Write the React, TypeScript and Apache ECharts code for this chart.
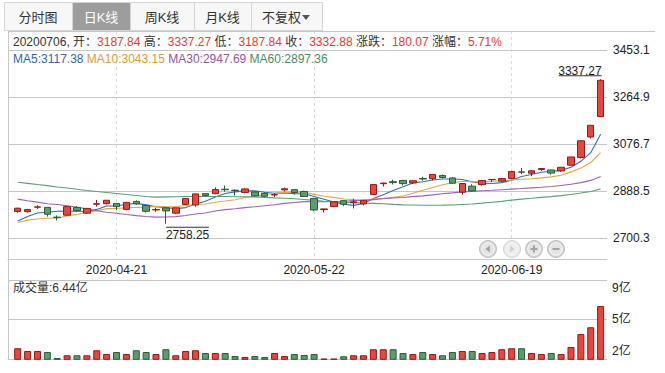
import React, { useEffect, useRef } from 'react';
import * as echarts from 'echarts';

const dates = [
  '2020-04-07', '2020-04-08', '2020-04-09', '2020-04-10', '2020-04-13', '2020-04-14', '2020-04-15', '2020-04-16', '2020-04-17', '2020-04-20',
  '2020-04-21', '2020-04-22', '2020-04-23', '2020-04-24', '2020-04-27', '2020-04-28', '2020-04-29', '2020-04-30', '2020-05-06', '2020-05-07',
  '2020-05-08', '2020-05-11', '2020-05-12', '2020-05-13', '2020-05-14', '2020-05-15', '2020-05-18', '2020-05-19', '2020-05-20', '2020-05-21',
  '2020-05-22', '2020-05-25', '2020-05-26', '2020-05-27', '2020-05-28', '2020-05-29', '2020-06-01', '2020-06-02', '2020-06-03', '2020-06-04',
  '2020-06-05', '2020-06-08', '2020-06-09', '2020-06-10', '2020-06-11', '2020-06-12', '2020-06-15', '2020-06-16', '2020-06-17', '2020-06-18',
  '2020-06-19', '2020-06-22', '2020-06-23', '2020-06-24', '2020-06-29', '2020-06-30', '2020-07-01', '2020-07-02', '2020-07-03', '2020-07-06',
];

const opens = [
  2808, 2807, 2825, 2824, 2785, 2793, 2824, 2801, 2837, 2839,
  2840, 2816, 2848, 2832, 2814, 2822, 2801, 2836, 2834, 2879,
  2879, 2897, 2893, 2884, 2886, 2880, 2874, 2894, 2895, 2888,
  2860, 2815, 2827, 2851, 2843, 2838, 2876, 2919, 2927, 2932,
  2922, 2940, 2939, 2952, 2942, 2885, 2909, 2915, 2935, 2929,
  2940, 2966, 2961, 2976, 2974, 2970, 2993, 3024, 3106, 3187.84,
];

const closes = [
  2820.76, 2815.37, 2825.90, 2796.63, 2783.05, 2827.28, 2811.17, 2819.94, 2838.49, 2852.55,
  2827.01, 2843.98, 2838.50, 2808.53, 2815.49, 2810.02, 2822.44, 2860.08, 2878.14, 2871.52,
  2895.34, 2894.80, 2891.56, 2898.05, 2870.34, 2868.46, 2875.42, 2898.58, 2883.74, 2867.92,
  2813.77, 2817.97, 2846.55, 2836.80, 2846.22, 2852.35, 2915.43, 2921.40, 2923.37, 2919.25,
  2930.80, 2937.77, 2956.11, 2943.75, 2920.90, 2919.74, 2890.03, 2931.75, 2935.87, 2939.32,
  2967.63, 2965.27, 2970.62, 2979.55, 2961.52, 2984.67, 3025.98, 3090.57, 3152.81, 3332.88,
];

const lows = [
  2803, 2803, 2818, 2787, 2772, 2791, 2806, 2798, 2827, 2836,
  2813, 2812, 2835, 2803, 2806, 2758.25, 2797, 2834, 2827, 2869,
  2877, 2887, 2871, 2880, 2867, 2866, 2866, 2888, 2876, 2866,
  2809, 2804, 2826, 2830, 2820, 2832, 2875, 2908, 2916, 2912,
  2918, 2931, 2932, 2940, 2918, 2876, 2888, 2911, 2925, 2927,
  2937, 2957, 2949, 2970, 2955, 2966, 2991, 3020, 3100, 3187.84,
];

const highs = [
  2823, 2818, 2833, 2826, 2792, 2828, 2829, 2822, 2854, 2853,
  2841, 2845, 2852, 2835, 2823, 2826, 2823, 2861, 2879, 2881,
  2904, 2912, 2896, 2900, 2888, 2885, 2881, 2903, 2897, 2891,
  2862, 2819, 2847, 2853, 2859, 2853, 2917, 2923, 2935, 2934,
  2932, 2947, 2957, 2956, 2945, 2920, 2917, 2934, 2937, 2940,
  2969, 2982, 2972, 2982, 2975, 2985, 3026, 3093, 3153, 3337.27,
];

// 成交量 (亿)
const volumes = [
  3.08, 2.86, 2.86, 2.78, 2.30, 2.52, 2.52, 2.52, 2.92, 2.62,
  2.78, 2.62, 2.92, 2.78, 2.62, 3.00, 2.52, 2.86, 2.92, 2.70,
  2.70, 2.70, 2.46, 2.38, 2.46, 2.38, 2.70, 2.46, 2.62, 2.54,
  2.62, 2.26, 2.26, 2.44, 2.52, 2.52, 3.00, 3.00, 3.00, 2.70,
  2.62, 2.78, 2.62, 2.52, 2.78, 2.86, 2.86, 2.70, 2.78, 3.00,
  3.08, 3.08, 2.70, 2.62, 2.70, 2.62, 3.18, 4.21, 4.75, 6.44,
];

const ma5 = [
  2770.0, 2788.0, 2801.3, 2804.5, 2808.34, 2809.65, 2808.81, 2807.61, 2815.99, 2829.89,
  2829.83, 2836.39, 2840.11, 2834.11, 2826.70, 2823.30, 2819.00, 2823.31, 2837.23, 2848.44,
  2865.50, 2879.98, 2886.27, 2890.25, 2890.02, 2884.64, 2880.77, 2882.17, 2879.31, 2878.82,
  2867.89, 2856.40, 2845.99, 2836.60, 2832.26, 2839.98, 2859.47, 2874.44, 2891.75, 2906.36,
  2922.05, 2926.52, 2933.46, 2937.54, 2937.87, 2935.65, 2926.11, 2921.23, 2919.66, 2923.34,
  2932.92, 2947.97, 2955.74, 2964.48, 2968.92, 2972.33, 2984.47, 3008.46, 3043.11, 3117.38,
];

const ma10 = [
  2763.86, 2773.15, 2777.58, 2780.75, 2781.83, 2789.84, 2795.93, 2804.47, 2810.25, 2819.11,
  2819.74, 2822.60, 2823.86, 2825.05, 2828.29, 2826.57, 2827.70, 2831.71, 2835.67, 2837.57,
  2844.40, 2849.49, 2854.79, 2863.74, 2869.23, 2875.07, 2880.37, 2884.22, 2884.78, 2884.42,
  2876.26, 2868.58, 2864.08, 2857.96, 2855.54, 2853.93, 2857.93, 2860.22, 2864.18, 2869.31,
  2881.01, 2892.99, 2903.95, 2914.65, 2922.11, 2928.85, 2926.31, 2927.35, 2928.60, 2930.60,
  2934.29, 2937.04, 2938.49, 2942.07, 2946.13, 2952.62, 2966.22, 2982.10, 3003.79, 3043.15,
];

const ma30 = [
  2857.25, 2850.66, 2845.26, 2838.77, 2835.53, 2830.74, 2824.68, 2818.29, 2810.52, 2804.45,
  2800.57, 2795.48, 2791.15, 2787.32, 2784.92, 2785.61, 2787.04, 2791.42, 2797.29, 2801.49,
  2809.33, 2815.08, 2818.75, 2823.19, 2826.46, 2830.50, 2834.67, 2840.14, 2843.58, 2847.04,
  2846.80, 2846.89, 2847.58, 2848.92, 2851.02, 2851.86, 2855.33, 2858.72, 2861.54, 2863.77,
  2867.23, 2870.35, 2874.27, 2878.78, 2882.30, 2885.95, 2888.21, 2890.59, 2892.52, 2894.78,
  2897.19, 2899.54, 2902.17, 2904.89, 2907.93, 2911.80, 2916.82, 2923.22, 2932.19, 2947.69,
];

const ma60 = [
  2924.74, 2920.27, 2915.62, 2911.12, 2905.92, 2901.50, 2896.43, 2891.65, 2887.46, 2883.77,
  2879.63, 2875.43, 2871.87, 2867.67, 2864.99, 2866.05, 2866.70, 2867.40, 2867.59, 2867.52,
  2867.60, 2867.49, 2866.90, 2866.77, 2865.99, 2864.07, 2862.24, 2860.96, 2858.52, 2855.66,
  2852.04, 2848.79, 2846.43, 2843.85, 2843.28, 2841.30, 2840.01, 2838.51, 2836.04, 2834.12,
  2833.91, 2832.93, 2832.72, 2833.06, 2833.62, 2835.79, 2837.63, 2841.01, 2844.91, 2848.14,
  2853.26, 2857.31, 2860.46, 2864.04, 2867.20, 2871.16, 2875.75, 2881.68, 2887.88, 2897.36,
];

const priceTicks = [2700.3, 2888.5, 3076.7, 3264.9, 3453.1];
const PRICE_MIN = 2617.4;
const PRICE_MAX = 3530.4;
const VOL_MIN = 2.2;
const VOL_MAX = 8.51;
const volumeTickLabels = ['9亿', '5亿', '2亿'];
const tabLabels = ['分时图', '日K线', '周K线', '月K线', '不复权'];
const maNames = ['MA5', 'MA10', 'MA30', 'MA60'];

const FONT = "'Liberation Sans', Arial, 'Noto Sans CJK SC', sans-serif";
const UP_FILL = '#e8453c';
const UP_BORDER = '#951a1a';
const DOWN_FILL = '#5b9b6f';
const DOWN_BORDER = '#285f34';
const MA_COLORS = ['#3570aa', '#e8a545', '#9e62b6', '#5a9f76'];
const MA_TEXT = ['#2f67a8', '#e39a2f', '#93559f', '#3f8f5f'];
const GRID_COLOR = '#c6c6c6';
const RED_TEXT = '#e43c3c';

const buildOption = () => {
  const n = dates.length;
  const last = n - 1;
  const change = closes[last] - closes[last - 1];
  const pct = (change / closes[last - 1]) * 100;
  let hiIdx = 0;
  let loIdx = 0;
  highs.forEach((v, i) => { if (v > highs[hiIdx]) hiIdx = i; });
  lows.forEach((v, i) => { if (v < lows[loIdx]) loIdx = i; });
  const maData = [ma5, ma10, ma30, ma60];

  const step = 9.88;
  const candleLeft = 17.7;
  const candleWidth = step * (n - 1);
  const volLeft = candleLeft - step / 2;
  const volWidth = step * n;

  const infoText =
    `{k|${dates[last].replace(/-/g, '')}, 开：}{v|${opens[last].toFixed(2)}}` +
    `{k| 高：}{v|${highs[last].toFixed(2)}}` +
    `{k| 低：}{v|${lows[last].toFixed(2)}}` +
    `{k| 收：}{v|${closes[last].toFixed(2)}}` +
    `{k| 涨跌：}{v|${change.toFixed(2)}}` +
    `{k| 涨幅：}{v|${pct.toFixed(2)}%}`;

  const maText = maNames
    .map((name, i) => `{m${i}|${name}:${maData[i][last].toFixed(2)}}`)
    .join('{sp| }');
  const maRich: any = { sp: { fontSize: 12, fontFamily: FONT } };
  MA_TEXT.forEach((c, i) => { maRich['m' + i] = { fill: c, fontSize: 12, fontFamily: FONT }; });

  // tabs
  const tabGeom = [
    { x: 4, w: 68 },
    { x: 72, w: 58 },
    { x: 130, w: 64 },
    { x: 194, w: 57 },
    { x: 251, w: 71 },
  ];
  const tabEls: any[] = [];
  tabLabels.forEach((label, i) => {
    const g = tabGeom[i];
    const active = i === 1;
    tabEls.push({
      type: 'rect',
      shape: { x: g.x + 0.5, y: 2.5, width: g.w, height: 28 },
      style: { fill: active ? '#9d9d9d' : '#f7f7f7', stroke: '#d4d4d4', lineWidth: 1 },
      z: 10,
    });
    const isDrop = i === 4;
    tabEls.push({
      type: 'text',
      x: g.x + g.w / 2 + (isDrop ? -5 : 0),
      y: 17,
      style: {
        text: label,
        fill: active ? '#ffffff' : '#333333',
        fontSize: 13,
        fontFamily: FONT,
        align: 'center',
        verticalAlign: 'middle',
      },
      z: 11,
    });
    if (isDrop) {
      tabEls.push({
        type: 'polygon',
        shape: { points: [[302, 15], [310, 15], [306, 20]] },
        style: { fill: '#555' },
        z: 11,
      });
    }
  });

  // zoom buttons
  const btnXs = [488, 512, 534, 556];
  const btnY = 249;
  const btnEls: any[] = [];
  btnXs.forEach((bx, i) => {
    const disabled = i === 1;
    btnEls.push({
      type: 'circle',
      shape: { cx: bx, cy: btnY, r: 8.5 },
      style: { fill: disabled ? '#e6e6e6' : '#d3d3d3', stroke: disabled ? '#d8d8d8' : '#c0c0c0', lineWidth: 1 },
      z: 20,
    });
    btnEls.push({
      type: 'circle',
      shape: { cx: bx, cy: btnY, r: 6.3 },
      style: { fill: disabled ? '#efefef' : '#e4e4e4', stroke: '#fafafa', lineWidth: 1 },
      z: 21,
    });
    const gc = disabled ? '#d0d0d0' : '#a3a3a3';
    if (i === 0) {
      btnEls.push({ type: 'polygon', shape: { points: [[bx + 1.8, btnY - 3.5], [bx + 1.8, btnY + 3.5], [bx - 2.6, btnY]] }, style: { fill: gc }, z: 22 });
    } else if (i === 1) {
      btnEls.push({ type: 'polygon', shape: { points: [[bx - 1.8, btnY - 3.5], [bx - 1.8, btnY + 3.5], [bx + 2.6, btnY]] }, style: { fill: gc }, z: 22 });
    } else {
      btnEls.push({ type: 'rect', shape: { x: bx - 3.5, y: btnY - 1, width: 7, height: 2 }, style: { fill: gc }, z: 22 });
      if (i === 2) {
        btnEls.push({ type: 'rect', shape: { x: bx - 1, y: btnY - 3.5, width: 2, height: 7 }, style: { fill: gc }, z: 22 });
      }
    }
  });

  const volLabelYs = [288, 319, 351];

  return {
    animation: false,
    backgroundColor: '#ffffff',
    textStyle: { fontFamily: FONT },
    grid: [
      { left: 8, top: 31, width: 599, height: 228 },
      { left: candleLeft, top: 31, width: candleWidth, height: 228 },
      { left: 8, top: 280, width: 599, height: 79.3 },
      { left: volLeft, top: 280, width: volWidth, height: 79.3 },
    ],
    xAxis: [
      {
        gridIndex: 0, type: 'value', min: 0, max: 1,
        axisLine: { show: true, lineStyle: { color: GRID_COLOR } },
        axisTick: { show: false }, axisLabel: { show: false }, splitLine: { show: false },
      },
      {
        gridIndex: 1, type: 'category', data: dates, boundaryGap: false,
        axisLine: { show: false }, axisTick: { show: false },
        axisLabel: {
          interval: (i: number) => i % 20 === 10,
          color: '#222', fontSize: 12, fontFamily: FONT, margin: 5,
        },
        splitLine: {
          show: true,
          interval: (i: number) => i % 20 === 10,
          lineStyle: { color: '#dadada', type: [3, 3], width: 1 },
        },
      },
      {
        gridIndex: 2, type: 'value', min: 0, max: 1,
        axisLine: { show: true, lineStyle: { color: GRID_COLOR } },
        axisTick: { show: false }, axisLabel: { show: false }, splitLine: { show: false },
      },
      {
        gridIndex: 3, type: 'category', data: dates, boundaryGap: true,
        axisLine: { show: false }, axisTick: { show: false }, axisLabel: { show: false }, splitLine: { show: false },
      },
    ],
    yAxis: [
      {
        gridIndex: 0, type: 'value', position: 'right', min: PRICE_MIN, max: PRICE_MAX,
        axisLine: { show: true, lineStyle: { color: GRID_COLOR } },
        axisTick: { show: true, customValues: priceTicks, length: 5, lineStyle: { color: GRID_COLOR } },
        axisLabel: {
          customValues: priceTicks, color: '#222', fontSize: 12, fontFamily: FONT, margin: 6,
          formatter: (v: number) => v.toFixed(1),
        },
        splitLine: { show: true, lineStyle: { color: GRID_COLOR, width: 1 } },
      },
      {
        gridIndex: 1, type: 'value', min: PRICE_MIN, max: PRICE_MAX, show: false,
        splitLine: { show: false },
      },
      {
        gridIndex: 2, type: 'value', position: 'right', min: VOL_MIN, max: VOL_MAX,
        axisLine: { show: true, lineStyle: { color: GRID_COLOR } },
        axisTick: { show: false, customValues: [(VOL_MIN + VOL_MAX) / 2, VOL_MAX] },
        axisLabel: { show: false, customValues: [(VOL_MIN + VOL_MAX) / 2, VOL_MAX] },
        splitLine: { show: true, lineStyle: { color: GRID_COLOR, width: 1 } },
      },
      {
        gridIndex: 3, type: 'value', min: VOL_MIN, max: VOL_MAX, show: false,
        splitLine: { show: false },
      },
    ],
    series: [
      ...maData.map((d, i) => ({
        type: 'line',
        name: maNames[i],
        xAxisIndex: 1, yAxisIndex: 1,
        data: d,
        symbol: 'none', showSymbol: false, silent: true,
        lineStyle: { color: MA_COLORS[i], width: 1.1 },
        z: 3,
        clip: false,
      })),
      {
        type: 'candlestick',
        xAxisIndex: 1, yAxisIndex: 1,
        data: dates.map((_, i) => [opens[i], closes[i], lows[i], highs[i]]),
        barWidth: 7,
        clip: false,
        z: 4,
        itemStyle: {
          color: UP_FILL, color0: DOWN_FILL,
          borderColor: UP_BORDER, borderColor0: DOWN_BORDER, borderWidth: 1,
        },
        markPoint: {
          silent: true,
          symbol: 'rect', symbolSize: 1,
          itemStyle: { color: 'rgba(0,0,0,0)' },
          data: [
            {
              coord: [hiIdx, highs[hiIdx]],
              label: {
                show: true, position: 'inside', align: 'right', verticalAlign: 'bottom', offset: [1, -3],
                formatter: `{t|${highs[hiIdx].toFixed(2)}}\n{u|}`,
                rich: {
                  t: { fontSize: 12, color: '#222', lineHeight: 9, fontFamily: FONT, align: 'right' },
                  u: { width: 43, height: 1, lineHeight: 1, backgroundColor: '#333', align: 'right' },
                },
              },
            },
            {
              coord: [loIdx, lows[loIdx]],
              label: {
                show: true, position: 'inside', align: 'left', verticalAlign: 'top', offset: [0, 3],
                formatter: `{u|}\n{t|${lows[loIdx].toFixed(2)}}`,
                rich: {
                  t: { fontSize: 12, color: '#222', lineHeight: 14, fontFamily: FONT, align: 'left' },
                  u: { width: 43, height: 1, lineHeight: 1, backgroundColor: '#333', align: 'left' },
                },
              },
            },
          ],
        },
      },
      {
        type: 'bar',
        xAxisIndex: 3, yAxisIndex: 3,
        barWidth: 7,
        data: volumes.map((v, i) => {
          const up = closes[i] >= opens[i];
          return {
            value: v,
            itemStyle: { color: up ? UP_FILL : DOWN_FILL, borderColor: up ? UP_BORDER : DOWN_BORDER, borderWidth: 1 },
          };
        }),
      },
    ],
    graphic: [
      ...tabEls,
      { type: 'line', shape: { x1: 8, y1: 31.5, x2: 655, y2: 31.5 }, style: { stroke: GRID_COLOR, lineWidth: 1 }, z: 5 },
      { type: 'line', shape: { x1: 8.5, y1: 31, x2: 8.5, y2: 360 }, style: { stroke: GRID_COLOR, lineWidth: 1 }, z: 5 },
      {
        type: 'text', x: 13, y: 42, z: 12,
        style: {
          text: infoText,
          fontSize: 12, fontFamily: FONT, verticalAlign: 'middle', fill: '#333',
          rich: {
            k: { fill: '#333', fontSize: 12, fontFamily: FONT },
            v: { fill: RED_TEXT, fontSize: 12, fontFamily: FONT },
          },
        },
      },
      {
        type: 'text', x: 13, y: 59, z: 12,
        style: { text: maText, fontSize: 12, fontFamily: FONT, verticalAlign: 'middle', rich: maRich },
      },
      {
        type: 'text', x: 13, y: 288, z: 12,
        style: {
          text: `成交量:${volumes[last].toFixed(2)}亿`,
          fill: '#333', fontSize: 12, fontFamily: FONT, verticalAlign: 'middle',
        },
      },
      ...volumeTickLabels.map((t, i) => ({
        type: 'text', x: 612, y: volLabelYs[i], z: 12,
        style: { text: t, fill: '#222', fontSize: 12, fontFamily: FONT, verticalAlign: 'middle' },
      })),
      ...btnEls,
    ],
  };
};

export default function App() {
  const ref = useRef<HTMLDivElement>(null);
  useEffect(() => {
    if (!ref.current) return;
    const chart = echarts.init(ref.current, null, { renderer: 'svg' });
    chart.setOption(buildOption() as any);
    return () => chart.dispose();
  }, []);
  return (
    <div
      ref={ref}
      style={{ position: 'absolute', left: 0, top: 0, width: 665, height: 373, background: '#fff' }}
    />
  );
}
